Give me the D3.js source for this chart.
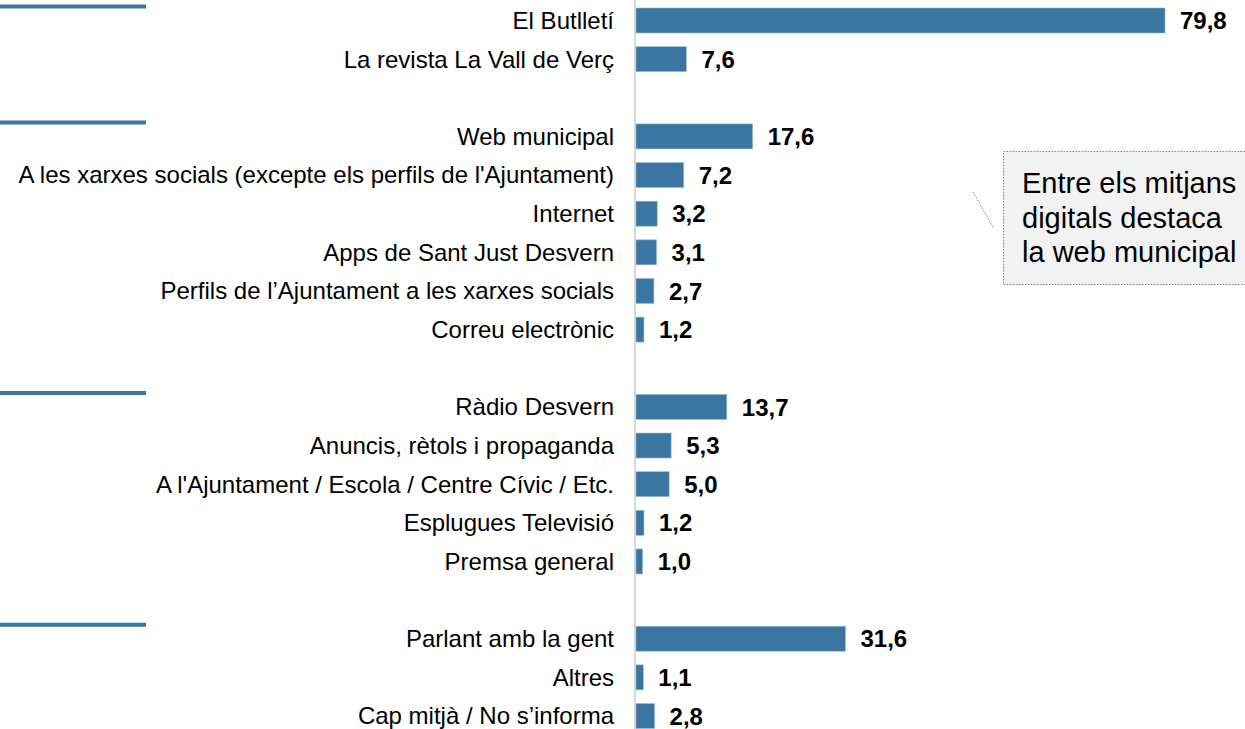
<!DOCTYPE html>
<html>
<head>
<meta charset="utf-8">
<script src="https://cdn.jsdelivr.net/npm/d3@7"></script>
<style>
  body { margin: 0; background: #fff; }
  text { font-family: "Liberation Sans", Arial, sans-serif; }
</style>
</head>
<body>
<div id="chart-area"></div>
<script>
// categories in display order; null marks the gap between groups
var categories = [
    "El Butlletí", "La revista La Vall de Verç", null,
    "Web municipal", "A les xarxes socials (excepte els perfils de l'Ajuntament)", "Internet",
    "Apps de Sant Just Desvern", "Perfils de l’Ajuntament a les xarxes socials", "Correu electrònic", null,
    "Ràdio Desvern", "Anuncis, rètols i propaganda", "A l'Ajuntament / Escola / Centre Cívic / Etc.",
    "Esplugues Televisió", "Premsa general", null,
    "Parlant amb la gent", "Altres", "Cap mitjà / No s’informa"
];
var values = [79.8, 7.6, null, 17.6, 7.2, 3.2, 3.1, 2.7, 1.2, null, 13.7, 5.3, 5.0, 1.2, 1.0, null, 31.6, 1.1, 2.8];
var groupStarts = [0, 3, 10, 16];
var note = ["Entre els mitjans", "digitals destaca", "la web municipal"];

var width = 1245, height = 729;
var svg = d3.select("#chart-area")
    .append("svg")
        .attr("width", width)
        .attr("height", height);

var idx = d3.range(categories.length);
var y = d3.scalePoint()
    .domain(idx)
    .range([20.5, 716]);

var x = d3.scaleLinear()
    .domain([0, 79.8])
    .range([636, 1165]);

var barH = 25;
var blue = "#3a76a1";

// vertical axis line
svg.append("line")
    .attr("x1", 635).attr("x2", 635)
    .attr("y1", 0).attr("y2", height)
    .attr("stroke", "#d9d9d9")
    .attr("stroke-width", 2);

// group header rules
svg.selectAll("line.grp")
    .data(groupStarts)
    .enter()
    .append("line")
        .attr("class", "grp")
        .attr("x1", 0).attr("x2", 146)
        .attr("y1", d => y(d) - 14)
        .attr("y2", d => y(d) - 14)
        .attr("stroke", blue)
        .attr("stroke-width", 4);

var rows = idx.filter(i => categories[i] !== null);

svg.selectAll("rect.bar")
    .data(rows)
    .enter()
    .append("rect")
        .attr("class", "bar")
        .attr("x", x(0))
        .attr("y", i => y(i) - barH / 2)
        .attr("width", i => x(values[i]) - x(0))
        .attr("height", barH)
        .attr("fill", blue)
        .attr("stroke", "#9dbbd0")
        .attr("stroke-width", 0.6);

svg.selectAll("text.cat")
    .data(rows)
    .enter()
    .append("text")
        .attr("class", "cat")
        .attr("x", 614)
        .attr("y", i => y(i))
        .attr("dy", "0.35em")
        .attr("text-anchor", "end")
        .attr("font-size", 24)
        .attr("fill", "#000")
        .text(i => categories[i]);

svg.selectAll("text.val")
    .data(rows)
    .enter()
    .append("text")
        .attr("class", "val")
        .attr("x", i => x(values[i]) + 15)
        .attr("y", i => y(i))
        .attr("dy", "0.36em")
        .attr("font-size", 24)
        .attr("font-weight", "bold")
        .attr("fill", "#000")
        .text(i => d3.format(".1f")(values[i]).replace(".", ","));

// annotation
svg.append("line")
    .attr("x1", 973).attr("y1", 192)
    .attr("x2", 993).attr("y2", 227)
    .attr("stroke", "#7f7f7f")
    .attr("stroke-width", 1)
    .attr("stroke-dasharray", "1.5,1.5");

svg.append("rect")
    .attr("x", 1003.5).attr("y", 151.5)
    .attr("width", 260).attr("height", 133)
    .attr("fill", "#f2f2f2")
    .attr("stroke", "#7f7f7f")
    .attr("stroke-width", 1)
    .attr("stroke-dasharray", "1.5,1.5");

svg.append("g")
    .selectAll("text")
    .data(note)
    .enter()
    .append("text")
        .attr("x", 1022)
        .attr("y", (d, i) => 193 + i * 34.5)
        .attr("font-size", 29)
        .attr("fill", "#000")
        .text(d => d);
</script>
</body>
</html>
